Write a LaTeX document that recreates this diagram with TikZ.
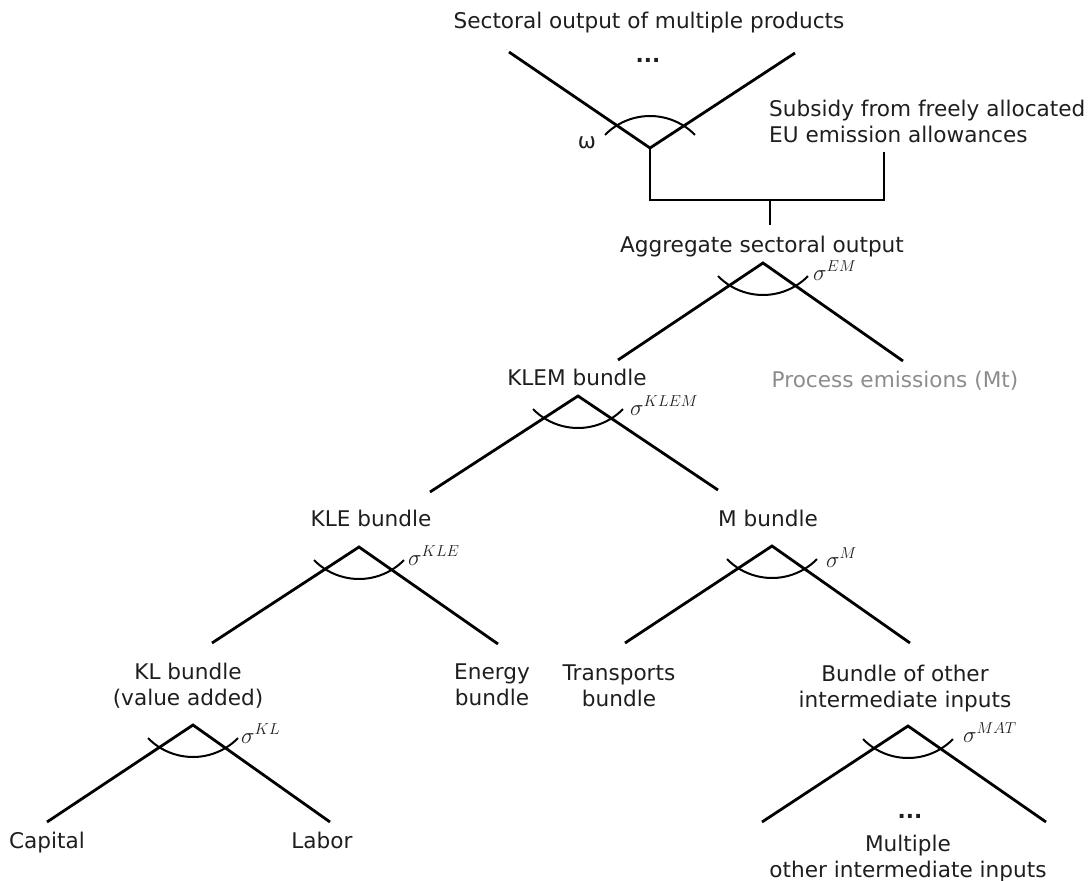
\documentclass[tikz,border=0pt]{standalone}
\usepackage{fontspec}
\setmainfont{DejaVu Sans}
\definecolor{txt}{RGB}{30,30,30}
\definecolor{soft}{RGB}{140,140,140}
\newcommand{\elast}[1]{\scalebox{1.1}{$\sigma^{#1}$}}
\tikzset{
  lbl/.style={anchor=base, inner sep=0pt, text=txt, font=\fontsize{21.6}{25.5}\selectfont},
  lblw/.style={lbl, anchor=base west},
  arm/.style={line width=2.8pt, draw=black, line join=miter},
  arcline/.style={line width=2pt, draw=black},
  % arc below a vertex, crossing both branches
  smilearc/.pic={\draw[arcline] (0,31) ++(-44.4:63) arc[start angle=-44.4, end angle=-135.6, radius=63];},
  % arc above a vertex, crossing both branches
  frownarc/.pic={\draw[arcline] (0,-31) ++(44.4:63) arc[start angle=44.4, end angle=135.6, radius=63];}
}
\begin{document}
\begin{tikzpicture}[x=1pt, y=1pt, yscale=-1]
\useasboundingbox (0,0) rectangle (1088,881);

% nest vertices and branch ends
\coordinate (T) at (650,148);   \coordinate (TL) at (509,52);   \coordinate (TR) at (795,53);
\coordinate (J1) at (650,200);  \coordinate (J2) at (884,200);  \coordinate (Sub) at (884,152);
\coordinate (StubTop) at (770,200); \coordinate (StubBot) at (770,225);
\coordinate (A) at (763,263);   \coordinate (AL) at (618,360);  \coordinate (AR) at (903,361);
\coordinate (KLEM) at (578,396);\coordinate (KLEML) at (430,492); \coordinate (KLEMR) at (718,490);
\coordinate (KLE) at (359,547); \coordinate (KLEL) at (212,643); \coordinate (KLER) at (498,644);
\coordinate (M) at (772,546);   \coordinate (ML) at (625,643);  \coordinate (MR) at (910,643);
\coordinate (KL) at (193,725);  \coordinate (KLL) at (47,822);  \coordinate (KLR) at (330,822);
\coordinate (MAT) at (908,726); \coordinate (MATL) at (762,822);\coordinate (MATR) at (1046,822);

% branches
\draw[arm] (TL) -- (T) -- (TR);
\draw[arm] (T) -- (J1) -- (J2) -- (Sub);
\draw[arm] (StubTop) -- (StubBot);
\draw[arm] (AL) -- (A) -- (AR);
\draw[arm] (KLEML) -- (KLEM) -- (KLEMR);
\draw[arm] (KLEL) -- (KLE) -- (KLER);
\draw[arm] (ML) -- (M) -- (MR);
\draw[arm] (KLL) -- (KL) -- (KLR);
\draw[arm] (MATL) -- (MAT) -- (MATR);

% substitution elasticity arcs
\pic at (T) {frownarc};
\pic at (A) {smilearc};
\pic at (KLEM) {smilearc};
\pic at (KLE) {smilearc};
\pic at (M) {smilearc};
\pic at (KL) {smilearc};
\pic at (MAT) {smilearc};

% labels
\node[lbl] (out) at (649,28) {Sectoral output of multiple products};
\node[lbl, font=\fontsize{21.6}{25.5}\selectfont\bfseries] (dotsTop) at (648,62) {...};
\node[lbl] (omega) at (587,148) {ω};
\node[lblw, align=left] (subsidy) at (769,142) {Subsidy from freely allocated\\EU emission allowances};
\node[lbl] (agg) at (762,252) {Aggregate sectoral output};
\node[lblw] (sEM) at (813,280) {\elast{EM}};
\node[lbl] (klem) at (577,385) {KLEM bundle};
\node[lbl, text=soft] (proc) at (895,387) {Process emissions (Mt)};
\node[lblw] (sKLEM) at (630,415) {\elast{KLEM}};
\node[lbl] (kle) at (371,526) {KLE bundle};
\node[lbl] (mb) at (768,526) {M bundle};
\node[lblw] (sKLE) at (408,565) {\elast{KLE}};
\node[lblw] (sM) at (826,567) {\elast{M}};
\node[lbl, align=center] (kl) at (188,705) {KL bundle\\(value added)};
\node[lbl, align=center] (energy) at (492,705) {Energy\\bundle};
\node[lbl, align=center] (transp) at (619,706) {Transports\\bundle};
\node[lbl, align=center] (other) at (905,707) {Bundle of other\\intermediate inputs};
\node[lblw] (sKL) at (241,743) {\elast{KL}};
\node[lblw] (sMAT) at (963,742) {\elast{MAT}};
\node[lbl] (capital) at (47,848) {Capital};
\node[lbl] (labor) at (322,848) {Labor};
\node[lbl, font=\fontsize{21.6}{25.5}\selectfont\bfseries] (dotsBot) at (910,818) {...};
\node[lbl, align=center] (multi) at (908,877) {Multiple\\other intermediate inputs};
\end{tikzpicture}
\end{document}
